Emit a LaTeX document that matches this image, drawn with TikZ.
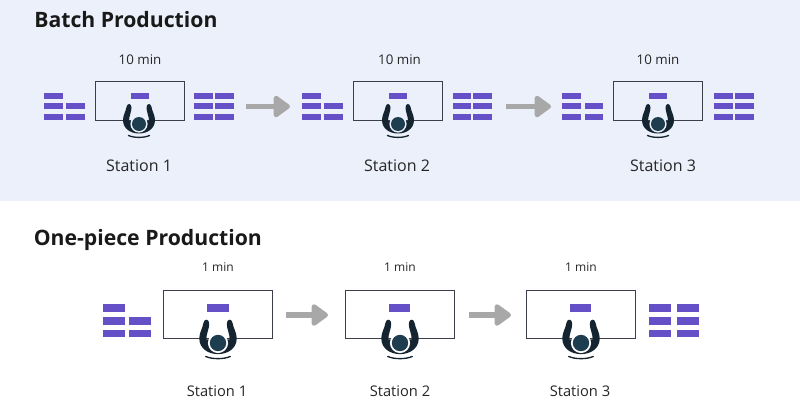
\documentclass[tikz,border=0pt]{standalone}
\usepackage{fontspec}
\setmainfont{Open Sans}
\usetikzlibrary{arrows.meta}
\definecolor{bgtop}{HTML}{ECF0FB}
\definecolor{barc}{HTML}{6650C8}
\definecolor{arrowc}{HTML}{A8A8A8}
\definecolor{deskc}{HTML}{3A3F4A}
\definecolor{darkc}{HTML}{142430}
\definecolor{headc}{HTML}{1E3D4E}
\tikzset{
  x=0.75pt,y=-0.75pt,
  desk/.style={draw=deskc,line width=0.8pt,inner sep=0pt,anchor=north west},
  flowarrow/.style={draw=arrowc,line width=4.4pt,-{Triangle[width=18.5pt,length=13.5pt,round]}},
  head1/.style={font=\fontsize{15.9}{18}\selectfont\bfseries,anchor=base west,inner sep=0pt,text=black!90},
  stA/.style={font=\fontsize{12}{13}\selectfont,anchor=base,inner sep=0pt,text=black!85},
  tmA/.style={font=\fontsize{10}{11}\selectfont,anchor=base,inner sep=0pt,text=black!85},
  stB/.style={font=\fontsize{11}{13}\selectfont,anchor=base,inner sep=0pt,text=black!85},
  tmB/.style={font=\fontsize{9}{10}\selectfont,anchor=base,inner sep=0pt,text=black!85},
  pics/worker/.style={code={
    \fill[darkc] (-16,-4) .. controls (-16,5) and (-8,9.5) .. (0,9.5)
      .. controls (8,9.5) and (16,5) .. (16,-4)
      .. controls (16,-9) and (13,-13) .. (12.5,-17)
      .. controls (12,-21) and (7.5,-21) .. (7.5,-16.5)
      .. controls (7.5,-12) and (10,-8) .. (10,-3)
      -- (-10,-3)
      .. controls (-10,-8) and (-7.5,-12) .. (-7.5,-16.5)
      .. controls (-7.5,-21) and (-12,-21) .. (-12.5,-17)
      .. controls (-13,-13) and (-16,-9) .. (-16,-4) -- cycle;
    \fill[#1] (0,0) circle (8.6);
    \fill[headc] (0,0) circle (7);
    \draw[darkc,line width=1pt,line cap=round] (-10.5,11.5) .. controls (-5,14) and (5,14) .. (10.5,11.5);
  }}
}
\newcommand{\barat}[4]{\fill[barc] (#1,#2-#4/2) rectangle (#1+#3,#2+#4/2);}
\newcommand{\stackA}[3]{%
  \barat{#2}{106}{18.5}{6.4}\barat{#2}{116.7}{18.5}{6.4}
  \barat{#1}{96}{18.5}{6.4}\barat{#1}{106}{18.5}{6.4}\barat{#1}{116.7}{18.5}{6.4}
  \ifnum#3=1 \barat{#2}{96}{18.5}{6.4}\fi}
\newcommand{\stackB}[3]{%
  \barat{#2}{321}{22}{7.4}\barat{#2}{333.7}{22}{7.4}
  \barat{#1}{308}{21.5}{7.4}\barat{#1}{321}{21.5}{7.4}\barat{#1}{333.7}{21.5}{7.4}
  \ifnum#3=1 \barat{#2}{308}{22}{7.4}\fi}
\begin{document}
\begin{tikzpicture}
\useasboundingbox (0,0) rectangle (800,400);
\fill[white] (0,0) rectangle (800,400);
\fill[bgtop] (0,0) rectangle (800,201);
\node[head1] (titleA) at (34,27.7) {Batch Production};
\node[head1] (titleB) at (33.5,245) {One-piece Production};
% batch
\node[tmA] (ta1) at (140,64) {10 min};
\node[tmA] (ta2) at (399.5,64) {10 min};
\node[tmA] (ta3) at (658,64) {10 min};
\node[desk,minimum width=66.75pt,minimum height=29.25pt] (da1) at (95,81) {};
\node[desk,minimum width=66.75pt,minimum height=29.25pt] (da2) at (353,81) {};
\node[desk,minimum width=66.75pt,minimum height=29.25pt] (da3) at (613.3,81) {};
\barat{131}{96}{18}{6.4}\barat{389}{96}{18}{6.4}\barat{649.3}{96}{18}{6.4}
\stackA{44}{66}{0}\stackA{194}{215}{1}
\stackA{302}{324}{0}\stackA{452.5}{473}{1}
\stackA{562}{584.5}{0}\stackA{714}{735}{1}
\pic at (139,124) {worker=bgtop};
\pic at (398,124) {worker=bgtop};
\pic at (658,124) {worker=bgtop};
\node[stA] (sa1) at (139,171.7) {Station 1};
\node[stA] (sa2) at (397,171.7) {Station 2};
\node[stA] (sa3) at (663,171.7) {Station 3};
\coordinate (aa1) at (246,106.5);\coordinate (ab1) at (290,106.5);
\coordinate (aa2) at (506,106.5);\coordinate (ab2) at (551,106.5);
\draw[flowarrow] (aa1) -- (ab1);
\draw[flowarrow] (aa2) -- (ab2);
% one piece
\node[tmB] (tb1) at (218,271) {1 min};
\node[tmB] (tb2) at (400,271) {1 min};
\node[tmB] (tb3) at (581,271) {1 min};
\node[desk,minimum width=81.5pt,minimum height=36pt] (db1) at (163,290) {};
\node[desk,minimum width=81.5pt,minimum height=36pt] (db2) at (345,290) {};
\node[desk,minimum width=81.5pt,minimum height=36pt] (db3) at (526,290) {};
\barat{207}{308}{21.5}{7.4}\barat{388.5}{308}{21.5}{7.4}\barat{569.5}{308}{21.5}{7.4}
\stackB{103}{129}{0}\stackB{649}{676.5}{1}
\pic[scale=1.17] at (218,343) {worker=white};
\pic[scale=1.17] at (400,343) {worker=white};
\pic[scale=1.17] at (581,343) {worker=white};
\node[stB] (sb1) at (217,396.7) {Station 1};
\node[stB] (sb2) at (400,396.7) {Station 2};
\node[stB] (sb3) at (580,396.7) {Station 3};
\coordinate (ba1) at (286,315);\coordinate (bb1) at (328,315);
\coordinate (ba2) at (469,315);\coordinate (bb2) at (511,315);
\draw[flowarrow] (ba1) -- (bb1);
\draw[flowarrow] (ba2) -- (bb2);
\end{tikzpicture}
\end{document}
